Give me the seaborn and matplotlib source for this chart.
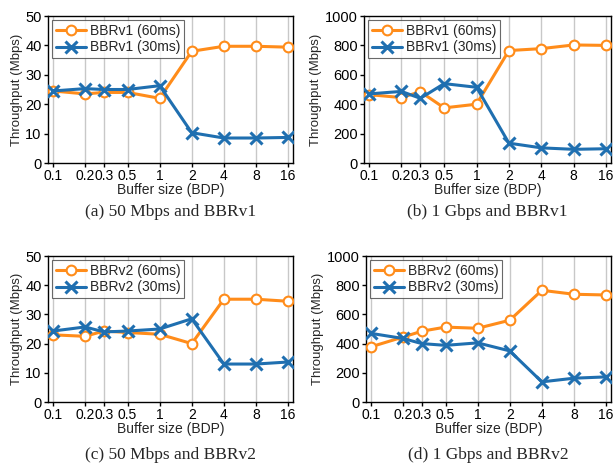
import matplotlib
matplotlib.use("Agg")
import matplotlib.pyplot as plt
import seaborn as sns
import numpy as np
import pandas as pd
from matplotlib.ticker import FixedLocator, FixedFormatter, NullLocator

sns.set_style("ticks")
plt.rcParams['font.family'] = ['Liberation Sans', 'DejaVu Sans']

buffer_sizes = [0.1, 0.2, 0.3, 0.5, 1, 2, 4, 8, 16]
tick_labels = ["0.1", "0.2", "0.3", "0.5", "1", "2", "4", "8", "16"]

a_v1_60 = [24.5, 23.5, 24.0, 24.0, 22.0, 38.0, 39.7, 39.7, 39.4]
a_v1_30 = [24.5, 25.3, 25.0, 25.0, 26.3, 10.3, 8.5, 8.5, 8.7]
b_v1_60 = [465, 445, 485, 375, 400, 765, 778, 803, 800]
b_v1_30 = [470, 487, 440, 540, 515, 135, 103, 93, 97]
c_v2_60 = [23.0, 22.5, 24.3, 23.8, 23.2, 20.0, 35.2, 35.2, 34.5]
c_v2_30 = [24.3, 25.7, 24.0, 24.3, 25.0, 28.5, 13.0, 13.0, 13.7]
d_v2_60 = [378, 445, 485, 513, 505, 560, 765, 738, 733]
d_v2_30 = [470, 435, 400, 388, 405, 350, 138, 163, 172]

panels = [
    ("(a) 50 Mbps and BBRv1", "BBRv1", a_v1_60, a_v1_30, 50, [0, 10, 20, 30, 40, 50]),
    ("(b) 1 Gbps and BBRv1", "BBRv1", b_v1_60, b_v1_30, 1000, [0, 200, 400, 600, 800, 1000]),
    ("(c) 50 Mbps and BBRv2", "BBRv2", c_v2_60, c_v2_30, 50, [0, 10, 20, 30, 40, 50]),
    ("(d) 1 Gbps and BBRv2", "BBRv2", d_v2_60, d_v2_30, 1000, [0, 200, 400, 600, 800, 1000]),
]

W, H = 614, 466
fig = plt.figure(figsize=(W / 100, H / 100), dpi=100)

# axes boxes in pixels: left, top, right, bottom
boxes = [(48, 16, 293, 163), (364, 16, 611, 163), (48, 256, 293, 402), (366, 256, 611, 402)]
caption_y = [212, 212, 455, 455]
orange = "#ff8c1a"
blue = "#1f6fb0"

for (title, algo, y60, y30, ymax, yticks), (l, t, r, b), cy in zip(panels, boxes, caption_y):
    ax = fig.add_axes([l / W, 1 - b / H, (r - l) / W, (b - t) / H])
    df60 = pd.DataFrame({"x": buffer_sizes, "y": y60})
    df30 = pd.DataFrame({"x": buffer_sizes, "y": y30})
    sns.lineplot(data=df60, x="x", y="y", ax=ax, color=orange, lw=2.2, marker="o",
                 markersize=7, markerfacecolor="white", markeredgecolor=orange,
                 markeredgewidth=1.5, label=f"{algo} (60ms)", zorder=3)
    sns.lineplot(data=df30, x="x", y="y", ax=ax, color=blue, lw=2.2, marker="x",
                 markersize=9, markeredgewidth=2.2, markeredgecolor=blue,
                 label=f"{algo} (30ms)", zorder=4)
    ax.set_xscale("log", base=2)
    ax.set_xlim(0.0898, 17.8)
    ax.set_ylim(0, ymax)
    ax.xaxis.set_major_locator(FixedLocator(buffer_sizes))
    ax.xaxis.set_major_formatter(FixedFormatter(tick_labels))
    ax.xaxis.set_minor_locator(NullLocator())
    ax.set_yticks(yticks)
    ax.grid(axis="x", color="#c8c8c8", lw=1.0)
    ax.set_axisbelow(True)
    for s in ax.spines.values():
        s.set_linewidth(1.0)
        s.set_color("black")
    ax.tick_params(axis="both", labelsize=10.5, length=3, width=1, pad=1.5, colors="black")
    ax.tick_params(axis="x", labelsize=10)
    ax.set_xlabel("Buffer size (BDP)", fontsize=10, labelpad=0)
    ax.set_ylabel("Throughput (Mbps)", fontsize=9.5, labelpad=2)
    leg = ax.legend(loc="upper left", fontsize=10, frameon=True, fancybox=False,
                    borderpad=0.25, labelspacing=0.2, handlelength=2.2, handletextpad=0.3,
                    borderaxespad=0.3)
    leg.get_frame().set_edgecolor("#444444")
    leg.get_frame().set_linewidth(0.8)
    cx = (l + r) / 2 / W
    fig.text(cx, 1 - cy / H, title, ha="center", va="center", fontsize=12.5,
             family=["Liberation Serif", "DejaVu Serif"])

fig.savefig("out.png", dpi=100)
